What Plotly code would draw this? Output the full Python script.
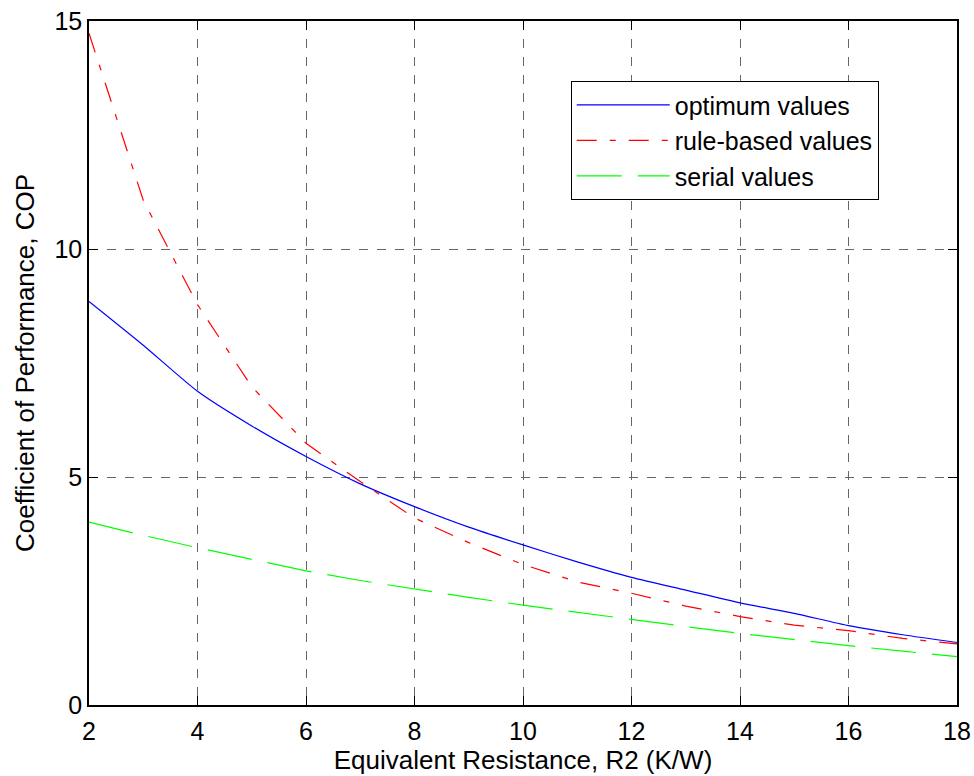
import plotly.graph_objects as go

r2 = [2, 3, 4, 5, 6, 7, 8, 9, 10, 11, 12, 13, 14, 15, 16, 17, 18]
optimum = [8.85, 7.89, 6.88, 6.12, 5.45, 4.85, 4.35, 3.90, 3.51, 3.14, 2.80, 2.52, 2.24, 2.01, 1.74, 1.54, 1.37]
rule_based = [14.73, 11.07, 8.78, 6.98, 5.74, 4.90, 4.10, 3.56, 3.08, 2.70, 2.45, 2.17, 1.94, 1.75, 1.63, 1.46, 1.34]
serial = [4.01, 3.72, 3.45, 3.19, 2.94, 2.73, 2.54, 2.36, 2.19, 2.03, 1.88, 1.72, 1.57, 1.43, 1.30, 1.18, 1.06]

x_ticks = [2, 4, 6, 8, 10, 12, 14, 16, 18]
y_ticks = [0, 5, 10, 15]

FONT = "Liberation Sans, Arial, sans-serif"

fig = go.Figure()
fig.add_trace(go.Scatter(x=r2, y=optimum, mode="lines", name="optimum values",
                         line=dict(color="#0000ff", width=1.2, shape="spline", smoothing=0.6)))
fig.add_trace(go.Scatter(x=r2, y=rule_based, mode="lines", name="rule-based values",
                         line=dict(color="#ff0000", width=1.2, dash="20px,13px,6px,13px")))
fig.add_trace(go.Scatter(x=r2, y=serial, mode="lines", name="serial values",
                         line=dict(color="#00ff00", width=1.2, dash="45px,16px")))

axis_common = dict(
    showline=True, linecolor="black", linewidth=1.5, mirror="ticks",
    ticks="inside", ticklen=9, tickcolor="black", tickwidth=1,
    showgrid=True, gridcolor="#666666", griddash="dash", gridwidth=1.3,
    zeroline=False, automargin=False,
    tickfont=dict(family=FONT, size=25, color="black"),
)

fig.update_xaxes(range=[2, 18], tickvals=x_ticks, ticklabelstandoff=3,
                 title=dict(text="Equivalent Resistance, R2 (K/W)",
                            font=dict(family=FONT, size=26, color="black"), standoff=2),
                 **axis_common)
fig.update_yaxes(range=[0, 15], tickvals=y_ticks,
                 title=dict(text="Coefficient of Performance, COP",
                            font=dict(family=FONT, size=26, color="black"), standoff=12),
                 **axis_common)

fig.update_layout(
    width=974, height=776,
    margin=dict(l=89, r=17, t=21, b=71),
    plot_bgcolor="white", paper_bgcolor="white",
    font=dict(family=FONT, size=25, color="black"),
    legend=dict(x=0.555, y=0.912, xanchor="left", yanchor="top",
                bgcolor="white", bordercolor="black", borderwidth=1,
                font=dict(family=FONT, size=25, color="black"),
                itemwidth=93, tracegroupgap=0),
    showlegend=True,
)

fig.write_html("out.html")
